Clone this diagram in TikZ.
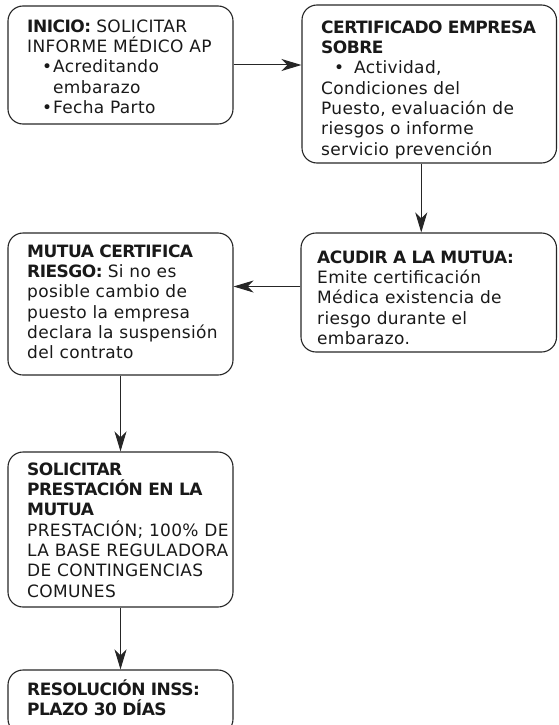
\documentclass[tikz,border=0pt]{standalone}
\usepackage{fontspec}
\setmainfont{DejaVu Sans}[UprightFeatures={LetterSpace=2},BoldFeatures={LetterSpace=-3}]
\usetikzlibrary{arrows.meta}

\newcommand{\itm}[2]{\hspace*{#1}\makebox[#2][l]{\textbullet}}
\newcommand{\fl}{\rule{0pt}{16pt}}

\begin{document}
\begin{tikzpicture}[x=1pt,y=-1pt,
    box/.style={draw=black!85,rounded corners=15pt,line width=1.1pt,inner sep=0pt},
    txt/.style={anchor=north west,inner sep=0pt,align=left,text=black!90,font=\fontsize{17}{20.3}\selectfont},
    arc/.style={draw=black!85,line width=1pt,-{Stealth[length=20pt,width=12pt,inset=6pt]}}]
    \clip (0,0) rectangle (558,725);

    % boxes
    \node[box,minimum width=225pt,minimum height=118pt] (inicio) at (120.5,65) {};
    \node[box,minimum width=254.5pt,minimum height=158pt] (certificado) at (429.25,84) {};
    \node[box,minimum width=255.5pt,minimum height=119pt] (acudir) at (428.75,292.5) {};
    \node[box,minimum width=225pt,minimum height=142pt] (mutua) at (120.5,304) {};
    \node[box,minimum width=225pt,minimum height=155pt] (solicitar) at (120.5,529.5) {};
    \node[box,minimum width=225pt,minimum height=64pt] (resolucion) at (120.5,702) {};

    % texts
    \node[txt] (inicio text) at (27,16) {\fl\textbf{INICIO:} SOLICITAR\\ INFORME MÉDICO AP\\ \itm{15pt}{11pt}Acreditando\\ \hspace*{26pt}embarazo\\ \itm{15pt}{11pt}Fecha Parto};
    \node[txt] (certificado text) at (321,17) {\fl\textbf{CERTIFICADO EMPRESA}\\ \textbf{SOBRE}\\ \itm{13pt}{20pt}Actividad,\\ Condiciones del\\ Puesto, evaluación de\\ riesgos o informe\\ servicio prevención};
    \node[txt] (acudir text) at (317,247) {\fl\textbf{ACUDIR A LA MUTUA:}\\ Emite certificación\\ Médica existencia de\\ riesgo durante el\\ embarazo.};
    \node[txt] (mutua text) at (27,241) {\fl\textbf{MUTUA CERTIFICA}\\ \textbf{RIESGO:} Si no es\\ posible cambio de\\ puesto la empresa\\ declara la suspensión\\ del contrato};
    \node[txt] (solicitar text) at (27,459) {\fl\textbf{SOLICITAR}\\ \textbf{PRESTACIÓN EN LA}\\ \textbf{MUTUA}\\ PRESTACIÓN; 100\% DE\\ LA BASE REGULADORA\\ DE CONTINGENCIAS\\ COMUNES};
    \node[txt] (resolucion text) at (27,679) {\fl\textbf{RESOLUCIÓN INSS:}\\ \textbf{PLAZO 30 DÍAS}};

    % arrows
    \draw[arc] (inicio.east) -- (inicio.east -| certificado.west);
    \draw[arc] ([xshift=-8pt]certificado.south) -- ([xshift=-8pt]certificado.south |- acudir.north);
    \draw[arc] ([yshift=6pt]acudir.west) -- ([yshift=6pt]acudir.west -| mutua.east);
    \draw[arc] (mutua.south) -- (solicitar.north);
    \draw[arc] (solicitar.south) -- (resolucion.north);
\end{tikzpicture}
\end{document}
